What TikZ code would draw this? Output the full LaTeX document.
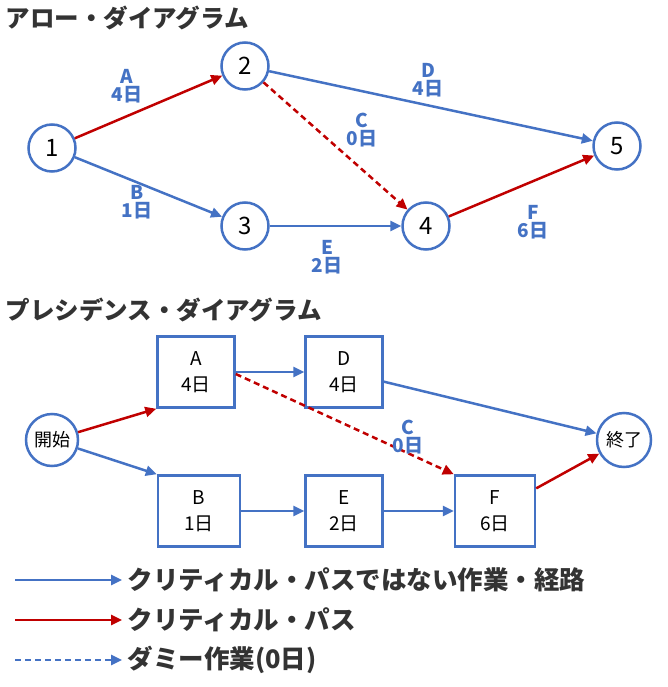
\documentclass[tikz,border=0pt]{standalone}
\usepackage{fontspec}
\setmainfont{Noto Sans CJK JP}
\usetikzlibrary{arrows.meta}
\definecolor{bl}{HTML}{4472C4}
\definecolor{rd}{HTML}{C00000}
\begin{document}
\begin{tikzpicture}[x=1pt,y=-1pt,
  ev/.style={circle,draw=bl,line width=2.5pt,minimum size=47pt,inner sep=0pt,font=\fontsize{24}{26}\selectfont},
  bx/.style={rectangle,draw=bl,line width=2.5pt,minimum width=77pt,minimum height=71pt,align=center,font=\fontsize{19}{26}\selectfont},
  ba/.style={draw=bl,line width=2.5pt,-{Triangle[length=11pt,width=10pt]}},
  ra/.style={draw=rd,line width=2.5pt,-{Triangle[length=11pt,width=10pt]}},
  dsh/.style={dash pattern=on 6pt off 4pt},
  lb/.style={text=bl,font=\bfseries\fontsize{19}{21}\selectfont,align=center},
  ttl/.style={anchor=west,font=\bfseries\fontsize{24.5}{27}\selectfont,text=black!80},
  lg/.style={anchor=west,font=\bfseries\fontsize{25.5}{28}\selectfont,text=black!80}]
\useasboundingbox (0,0) rectangle (668,687);
\node[ttl] (t1) at (2,18) {アロー・ダイアグラム};
\node[ev] (n1) at (52,148) {1};
\node[ev] (n2) at (245,66) {2};
\node[ev] (n3) at (245,226) {3};
\node[ev] (n4) at (426,226) {4};
\node[ev] (n5) at (617,146) {5};
\draw[ra] (n1) -- (n2);
\draw[ba] (n1) -- (n3);
\draw[ba] (n2) -- (n5);
\draw[ra,dsh] (n2) -- (n4);
\draw[ba] (n3) -- (n4);
\draw[ra] (n4) -- (n5);
\node[lb] (la) at (127,86) {A\\[-3pt]4日};
\node[lb] (lbb) at (137,202) {B\\[-3pt]1日};
\node[lb] (lc) at (362,130) {C\\[-3pt]0日};
\node[lb] (ld) at (428,80) {D\\[-3pt]4日};
\node[lb] (le) at (327,257) {E\\[-3pt]2日};
\node[lb] (lf) at (533,222) {F\\[-3pt]6日};
\node[ttl] (t2) at (2,310) {プレシデンス・ダイアグラム};
\node[ev,minimum size=52pt,font=\fontsize{18}{20}\selectfont] (st) at (52,440) {開始};
\node[ev,minimum size=54pt,font=\fontsize{18}{20}\selectfont] (en) at (624,440) {終了};
\node[bx] (A) at (196,372) {A\\4日};
\node[bx] (D) at (344,372) {D\\4日};
\node[bx,minimum width=82pt] (B) at (199,511) {B\\1日};
\node[bx] (E) at (344,511) {E\\2日};
\node[bx,minimum width=80pt] (F) at (495,511) {F\\6日};
\draw[ra] (st) -- (A.west|-A.south);
\draw[ba] (st) -- (B.north west);
\draw[ba] (A) -- (D);
\draw[ra,dsh] (A.east) ++(0,2) -- (F.north west);
\draw[ba] (D) -- (en);
\draw[ba] (B) -- (E);
\draw[ba] (E) -- (F);
\draw[ra] (F) -- (en);
\node[lb] (lc2) at (408,437) {C\\[-3pt]0日};
\coordinate (a1) at (15,580); \coordinate (b1) at (122,580);
\coordinate (a2) at (15,620); \coordinate (b2) at (122,620);
\coordinate (a3) at (15,660); \coordinate (b3) at (122,660);
\draw[ba] (a1) -- (b1);
\draw[ra] (a2) -- (b2);
\draw[ba,dsh] (a3) -- (b3);
\node[lg] (g1) at (124,580) {クリティカル・パスではない作業・経路};
\node[lg] (g2) at (124,620) {クリティカル・パス};
\node[lg] (g3) at (124,660) {ダミー作業(0日)};
\end{tikzpicture}
\end{document}
